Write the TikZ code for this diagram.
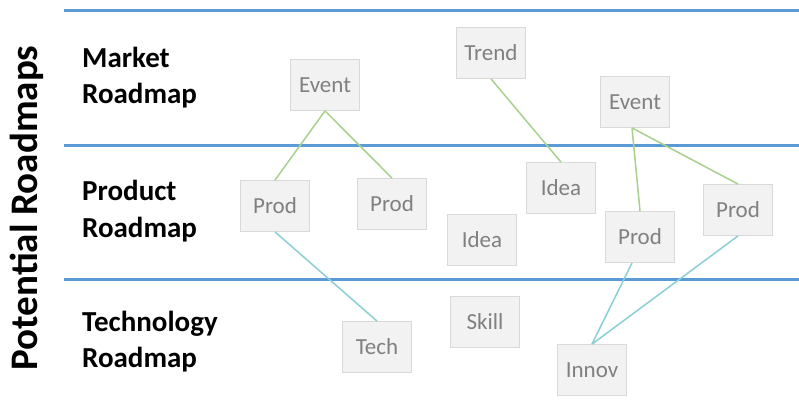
\documentclass[tikz,border=0pt]{standalone}
\usepackage{fontspec}
\setmainfont{Carlito}
\definecolor{laneblue}{HTML}{5B9BD5}
\definecolor{boxfill}{HTML}{F2F2F2}
\definecolor{boxline}{HTML}{D9D9D9}
\definecolor{boxtext}{HTML}{808080}
\definecolor{greenlink}{HTML}{A9D18E}
\definecolor{teallink}{HTML}{8ACFD6}
\begin{document}
\begin{tikzpicture}[x=1pt,y=-1pt,
  itembox/.style={draw=boxline, fill=boxfill, line width=0.8pt, minimum width=69pt, minimum height=51pt, inner sep=0pt, text=boxtext, font=\fontsize{23}{23}\selectfont},
  lane/.style={draw=laneblue, line width=3pt},
  glink/.style={draw=greenlink, line width=1.5pt},
  tlink/.style={draw=teallink, line width=1.5pt},
  lanelabel/.style={anchor=base west, inner sep=0pt, font=\fontsize{29}{29}\selectfont\bfseries, text=black}]
\useasboundingbox (0,0) rectangle (799,402);
\fill[white] (0,0) rectangle (799,402);
% lanes
\coordinate (l1a) at (64,10.5); \coordinate (l1b) at (799,10.5);
\coordinate (l2a) at (64,145); \coordinate (l2b) at (799,145);
\coordinate (l3a) at (64,279); \coordinate (l3b) at (799,279);
\draw[lane] (l1a) -- (l1b);
\draw[lane] (l2a) -- (l2b);
\draw[lane] (l3a) -- (l3b);
% title
\node[rotate=90, anchor=base, inner sep=0pt, font=\fontsize{39}{39}\selectfont\bfseries] (title) at (37,208) {Potential Roadmaps};
% lane labels
\node[lanelabel] (m1) at (82,67) {Market};
\node[lanelabel] (m2) at (82,103) {Roadmap};
\node[lanelabel] (p1) at (82,200) {Product};
\node[lanelabel] (p2) at (82,237) {Roadmap};
\node[lanelabel] (t1) at (82,331) {Technology};
\node[lanelabel] (t2) at (82,367) {Roadmap};
% boxes
\node[itembox] (ev1) at (325,85) {Event};
\node[itembox] (trend) at (491,53) {Trend};
\node[itembox] (ev2) at (635,102) {Event};
\node[itembox] (prod1) at (275,206) {Prod};
\node[itembox] (prod2) at (392,204) {Prod};
\node[itembox] (idea1) at (561,188) {Idea};
\node[itembox] (idea2) at (482,240) {Idea};
\node[itembox] (prod3) at (640,237) {Prod};
\node[itembox] (prod4) at (738,210) {Prod};
\node[itembox] (tech) at (377,347) {Tech};
\node[itembox] (skill) at (485,322) {Skill};
\node[itembox] (innov) at (592,370) {Innov};
% connectors
\draw[glink] (ev1.south) -- (prod1.north);
\draw[glink] (ev1.south) -- (prod2.north);
\draw[glink] (trend.south) -- (idea1.north);
\draw[glink] ([xshift=-3pt]ev2.south) -- (prod3.north);
\draw[glink] ([xshift=-3pt]ev2.south) -- (prod4.north);
\draw[tlink] (prod1.south) -- (tech.north);
\draw[tlink] ([xshift=-8pt]prod3.south) -- (innov.north);
\draw[tlink] (prod4.south) -- (innov.north);
\end{tikzpicture}
\end{document}
